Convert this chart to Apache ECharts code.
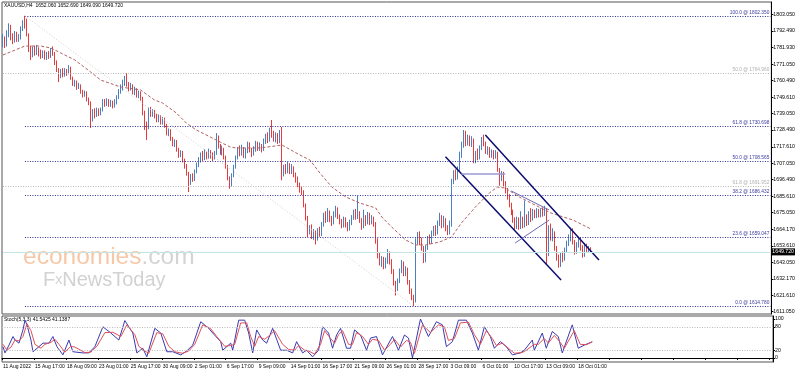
<!DOCTYPE html>
<html><head><meta charset="utf-8">
<script src="https://cdn.jsdelivr.net/npm/echarts@6/dist/echarts.min.js"></script>
<style>html,body{margin:0;padding:0;background:#fff}#c{width:798px;height:372px}</style>
</head><body><div id="c"></div><script>
const symbolTitle = 'XAUUSD,H4  1652.060 1652.690 1649.090 1649.720';
const stochTitle = 'Stoch(5,3,3) 41.5425 41.1387';
const tickLabels = ['11 Aug 2022','15 Aug 17:00','18 Aug 09:00','23 Aug 01:00','25 Aug 17:00','30 Aug 09:00','2 Sep 01:00','6 Sep 17:00','9 Sep 09:00','14 Sep 01:00','16 Sep 17:00','21 Sep 09:00','26 Sep 01:00','28 Sep 17:00','3 Oct 09:00','6 Oct 01:00','10 Oct 17:00','13 Oct 09:00','18 Oct 01:00'];
const priceTicks = [1803.05,1792.49,1781.93,1771.05,1760.49,1749.61,1739.05,1728.49,1717.61,1707.05,1696.49,1685.61,1675.05,1664.17,1653.61,1643.05,1632.17,1621.61,1611.05];
const stochTicks = [100,80,20,0];
const stochLevels = [80,20];
const totalSlots = 386;
const barsPerLabel = 16;
// [open, high, low, close]
const ohlc = [
[1784.7,1790.5,1782.0,1787.5],[1787.5,1789.0,1781.5,1783.0],[1783.0,1793.0,1782.5,1790.0],[1790.0,1797.5,1788.5,1795.5],[1795.5,1796.5,1786.5,1788.0],
[1788.0,1791.0,1784.0,1786.0],[1786.0,1792.5,1785.0,1789.5],[1789.5,1792.0,1785.5,1786.5],[1786.5,1790.5,1785.5,1788.5],[1788.5,1795.5,1787.0,1794.0],
[1794.0,1799.5,1792.5,1798.0],[1798.0,1802.35,1794.0,1796.5],[1796.5,1800.5,1789.0,1790.0],[1790.0,1791.0,1778.9,1781.5],[1781.5,1783.0,1773.8,1777.0],
[1777.0,1782.5,1775.5,1780.5],[1780.5,1783.0,1776.5,1778.5],[1778.5,1783.5,1777.0,1781.0],[1781.0,1782.0,1776.0,1779.0],[1779.0,1780.5,1774.5,1776.5],
[1776.5,1780.0,1775.0,1778.5],[1778.5,1780.0,1774.0,1775.5],[1775.5,1779.0,1773.8,1777.5],[1777.5,1779.5,1774.5,1776.0],[1776.0,1781.5,1775.0,1780.0],
[1780.0,1782.5,1776.5,1778.0],[1778.0,1779.0,1770.5,1772.0],[1772.0,1773.5,1766.0,1767.5],[1767.5,1768.5,1759.5,1763.0],[1763.0,1768.0,1762.0,1766.5],
[1766.5,1768.5,1762.5,1764.0],[1764.0,1768.5,1763.0,1767.0],[1767.0,1768.0,1763.5,1765.5],[1765.5,1770.5,1764.5,1769.0],[1769.0,1769.5,1761.0,1762.0],
[1762.0,1763.0,1757.0,1758.5],[1758.5,1761.0,1756.5,1759.5],[1759.5,1760.5,1754.5,1756.0],[1756.0,1759.0,1755.0,1757.5],[1757.5,1758.0,1752.0,1753.5],
[1753.5,1754.5,1749.5,1751.0],[1751.0,1754.0,1750.0,1752.5],[1752.5,1753.5,1747.0,1748.5],[1748.5,1749.5,1744.5,1746.0],[1746.0,1747.0,1729.8,1736.5],
[1736.5,1742.0,1734.0,1740.0],[1740.0,1742.5,1736.0,1738.0],[1738.0,1743.0,1737.0,1741.0],[1741.0,1742.5,1737.5,1739.0],[1739.0,1743.0,1738.0,1741.5],
[1741.5,1748.5,1740.5,1747.0],[1747.0,1748.5,1743.5,1745.0],[1745.0,1749.0,1744.0,1747.5],[1747.5,1748.5,1743.5,1744.5],[1744.5,1748.0,1743.5,1746.5],
[1746.5,1747.5,1742.5,1744.0],[1744.0,1748.5,1743.0,1746.0],[1746.0,1751.0,1745.0,1749.5],[1749.5,1755.0,1748.5,1753.5],[1753.5,1758.0,1752.0,1756.5],
[1756.5,1761.0,1754.0,1759.5],[1759.5,1763.5,1757.0,1761.0],[1761.0,1765.4,1756.5,1758.0],[1758.0,1759.5,1753.5,1755.0],[1755.0,1759.0,1754.0,1757.5],
[1757.5,1758.0,1751.5,1753.0],[1753.0,1756.5,1751.0,1754.5],[1754.5,1755.5,1749.5,1751.0],[1751.0,1754.0,1749.0,1752.5],[1752.5,1753.5,1747.5,1749.0],
[1749.0,1750.0,1738.0,1740.0],[1740.0,1741.0,1728.5,1733.0],[1733.0,1734.0,1722.0,1730.0],[1730.0,1743.0,1729.0,1741.5],[1741.5,1743.5,1737.0,1738.5],
[1738.5,1742.0,1737.0,1740.5],[1740.5,1741.5,1736.0,1737.5],[1737.5,1739.0,1733.5,1735.0],[1735.0,1738.5,1733.5,1737.0],[1737.0,1738.0,1732.0,1733.5],
[1733.5,1737.0,1732.0,1735.5],[1735.5,1736.5,1730.0,1731.5],[1731.5,1732.5,1725.0,1726.5],[1726.5,1729.5,1724.5,1728.0],[1728.0,1729.0,1721.5,1723.0],
[1723.0,1724.0,1718.0,1719.5],[1719.5,1722.5,1717.5,1721.0],[1721.0,1722.0,1714.5,1716.0],[1716.0,1717.0,1710.5,1712.5],[1712.5,1715.5,1711.0,1714.0],
[1714.0,1715.0,1707.5,1709.0],[1709.0,1710.0,1703.5,1705.5],[1705.5,1706.5,1699.0,1700.5],[1700.5,1701.5,1688.4,1694.0],[1694.0,1700.0,1693.0,1698.5],
[1698.5,1700.5,1695.0,1696.5],[1696.5,1703.0,1695.5,1701.5],[1701.5,1707.5,1700.5,1706.0],[1706.0,1711.0,1704.5,1709.0],[1709.0,1714.0,1707.5,1712.5],
[1712.5,1715.0,1708.5,1710.0],[1710.0,1716.0,1709.0,1713.0],[1713.0,1714.5,1709.5,1711.0],[1711.0,1716.5,1710.0,1714.5],[1714.5,1715.5,1710.0,1712.0],
[1712.0,1714.0,1708.5,1710.5],[1710.5,1715.0,1709.5,1713.5],[1713.5,1726.5,1712.5,1724.0],[1724.0,1725.0,1716.5,1718.0],[1718.0,1719.5,1712.5,1714.0],
[1714.0,1718.5,1712.0,1716.0],[1716.0,1717.0,1709.5,1711.0],[1711.0,1712.0,1703.5,1705.0],[1705.0,1706.0,1696.0,1697.5],[1697.5,1698.5,1690.5,1693.0],
[1693.0,1700.5,1692.0,1699.0],[1699.0,1706.0,1698.0,1704.5],[1704.5,1712.0,1703.5,1710.5],[1710.5,1717.5,1709.5,1716.0],[1716.0,1718.5,1711.5,1713.0],
[1713.0,1719.0,1712.0,1716.5],[1716.5,1717.5,1710.5,1712.0],[1712.0,1717.0,1710.0,1714.5],[1714.5,1721.0,1713.5,1719.0],[1719.0,1720.5,1714.0,1715.5],
[1715.5,1717.0,1711.0,1713.0],[1713.0,1718.0,1712.0,1716.0],[1716.0,1721.5,1714.5,1719.5],[1719.5,1721.0,1715.0,1716.5],[1716.5,1720.5,1715.0,1718.5],
[1718.5,1719.5,1714.0,1716.0],[1716.0,1723.0,1715.0,1721.0],[1721.0,1726.0,1719.5,1724.5],[1724.5,1727.0,1720.0,1722.0],[1722.0,1730.0,1721.0,1728.0],
[1728.0,1735.0,1723.5,1726.0],[1726.0,1728.0,1721.0,1722.5],[1722.5,1727.0,1720.5,1725.0],[1725.0,1726.5,1719.5,1721.0],[1721.0,1728.5,1720.0,1726.5],
[1726.5,1730.5,1696.0,1700.0],[1700.0,1706.0,1698.5,1704.5],[1704.5,1706.5,1700.0,1702.0],[1702.0,1708.0,1700.5,1705.5],[1705.5,1707.0,1700.0,1701.5],
[1701.5,1706.5,1700.0,1703.5],[1703.5,1705.0,1698.0,1699.5],[1699.5,1701.0,1694.5,1696.0],[1696.0,1698.5,1691.5,1693.0],[1693.0,1694.5,1688.0,1690.0],
[1690.0,1692.0,1686.5,1688.0],[1688.0,1689.5,1678.5,1680.0],[1680.0,1681.0,1670.0,1672.0],[1672.0,1673.0,1659.3,1662.5],[1662.5,1667.0,1661.0,1665.5],
[1665.5,1667.5,1658.0,1659.5],[1659.5,1664.5,1657.5,1662.5],[1662.5,1663.5,1654.5,1658.5],[1658.5,1665.0,1657.0,1663.5],[1663.5,1666.0,1659.5,1661.0],
[1661.0,1669.0,1660.0,1667.0],[1667.0,1675.0,1666.0,1673.0],[1673.0,1676.0,1668.5,1670.0],[1670.0,1678.0,1669.0,1675.0],[1675.0,1676.5,1669.0,1671.0],
[1671.0,1673.0,1666.5,1668.5],[1668.5,1676.0,1667.5,1673.5],[1673.5,1679.5,1672.0,1677.5],[1677.5,1678.5,1671.0,1672.5],[1672.5,1674.0,1667.5,1669.5],
[1669.5,1671.0,1665.0,1666.5],[1666.5,1672.5,1665.5,1670.5],[1670.5,1672.0,1665.5,1667.5],[1667.5,1669.0,1663.0,1664.5],[1664.5,1670.5,1663.5,1668.5],
[1668.5,1673.5,1667.0,1672.0],[1672.0,1677.0,1670.5,1675.0],[1675.0,1677.5,1670.5,1672.0],[1672.0,1686.0,1671.0,1674.5],[1674.5,1676.0,1668.5,1670.0],
[1670.0,1671.5,1664.0,1666.0],[1666.0,1677.0,1665.0,1671.5],[1671.5,1673.5,1666.5,1668.5],[1668.5,1675.5,1667.5,1673.0],[1673.0,1675.0,1667.0,1669.0],
[1669.0,1673.5,1667.5,1671.5],[1671.5,1672.5,1666.0,1668.0],[1668.0,1669.0,1655.0,1657.0],[1657.0,1658.5,1645.5,1648.0],[1648.0,1649.5,1641.0,1643.0],
[1643.0,1647.0,1640.0,1645.5],[1645.5,1646.5,1638.5,1641.0],[1641.0,1646.0,1639.0,1643.5],[1643.5,1651.5,1642.0,1648.5],[1648.5,1650.0,1641.5,1644.0],
[1644.0,1645.0,1635.5,1637.0],[1637.0,1638.5,1628.0,1630.0],[1630.0,1631.0,1621.5,1626.0],[1626.0,1632.5,1624.5,1631.0],[1631.0,1639.0,1629.5,1637.5],
[1637.5,1644.5,1636.0,1642.0],[1642.0,1643.5,1634.0,1635.5],[1635.5,1640.5,1634.0,1638.5],[1638.5,1639.5,1628.5,1630.0],[1630.0,1631.5,1622.5,1624.5],
[1624.5,1626.0,1618.5,1620.0],[1620.0,1622.0,1614.78,1618.0],[1618.0,1658.5,1617.0,1656.5],[1656.5,1662.5,1654.5,1660.5],[1660.5,1663.0,1654.0,1657.0],
[1657.0,1659.0,1650.5,1652.0],[1652.0,1653.5,1642.5,1644.0],[1644.0,1654.0,1643.0,1652.5],[1652.5,1660.0,1651.0,1658.5],[1658.5,1661.0,1654.5,1656.0],
[1656.0,1663.5,1655.0,1661.5],[1661.5,1666.5,1660.0,1664.5],[1664.5,1667.0,1660.0,1662.0],[1662.0,1670.0,1661.0,1668.0],[1668.0,1675.0,1666.5,1672.5],
[1672.5,1673.5,1665.0,1666.5],[1666.5,1673.0,1665.5,1670.5],[1670.5,1671.5,1663.0,1664.5],[1664.5,1667.0,1660.5,1662.0],[1662.0,1670.0,1661.0,1667.0],
[1667.0,1697.0,1666.0,1695.0],[1695.0,1702.5,1693.5,1700.5],[1700.5,1703.0,1696.0,1697.5],[1697.5,1705.0,1696.5,1703.0],[1703.0,1714.5,1702.0,1712.0],
[1712.0,1721.0,1710.5,1718.5],[1718.5,1728.5,1717.0,1724.0],[1724.0,1728.0,1718.0,1720.0],[1720.0,1725.5,1718.5,1723.5],[1723.5,1725.0,1718.0,1719.5],
[1719.5,1724.5,1717.5,1722.0],[1722.0,1723.0,1707.0,1708.5],[1708.5,1715.0,1707.0,1713.0],[1713.0,1716.5,1709.0,1710.5],[1710.5,1718.5,1709.5,1716.5],
[1716.5,1724.0,1715.5,1722.0],[1722.0,1725.5,1718.0,1720.0],[1720.0,1721.0,1713.0,1714.5],[1714.5,1718.0,1712.5,1716.0],[1716.0,1717.5,1710.5,1712.0],
[1712.0,1716.0,1710.5,1714.0],[1714.0,1715.5,1709.5,1711.5],[1711.5,1715.5,1710.0,1713.5],[1713.5,1714.5,1701.5,1703.0],[1703.0,1704.0,1692.5,1697.0],
[1697.0,1702.0,1695.5,1700.5],[1700.5,1701.5,1692.0,1694.0],[1694.0,1695.5,1687.5,1689.0],[1689.0,1691.0,1683.5,1685.5],[1685.5,1687.0,1678.5,1680.0],
[1680.0,1681.5,1673.5,1675.0],[1675.0,1677.0,1668.5,1670.0],[1670.0,1672.0,1664.0,1666.5],[1666.5,1672.5,1664.5,1669.5],[1669.5,1672.0,1664.0,1666.0],
[1666.0,1676.0,1664.5,1670.5],[1670.5,1672.5,1665.0,1667.0],[1667.0,1683.0,1665.5,1672.0],[1672.0,1674.0,1666.5,1668.5],[1668.5,1676.0,1667.0,1674.0],
[1674.0,1678.0,1669.0,1671.0],[1671.0,1677.5,1670.0,1675.5],[1675.5,1677.0,1671.5,1673.0],[1673.0,1678.0,1671.5,1675.5],[1675.5,1677.5,1672.0,1673.5],
[1673.5,1678.0,1672.0,1676.0],[1676.0,1678.5,1672.5,1674.5],[1674.5,1679.5,1673.0,1677.0],[1677.0,1678.0,1641.5,1648.5],[1648.5,1667.0,1647.0,1664.0],
[1664.0,1668.0,1657.0,1659.0],[1659.0,1665.0,1656.5,1662.0],[1662.0,1663.0,1650.5,1652.0],[1652.0,1653.5,1644.0,1646.0],[1646.0,1648.0,1639.5,1641.5],
[1641.5,1649.0,1640.0,1647.0],[1647.0,1650.0,1643.0,1645.0],[1645.0,1652.5,1644.0,1650.5],[1650.5,1657.0,1649.0,1655.0],[1655.0,1661.0,1653.5,1658.0],
[1658.0,1665.5,1656.5,1664.0],[1664.0,1665.0,1654.5,1656.0],[1656.0,1657.5,1648.0,1650.0],[1650.0,1656.0,1648.5,1654.0],[1654.0,1659.5,1652.5,1657.5],
[1657.5,1659.0,1650.5,1652.5],[1652.5,1654.0,1646.0,1648.0],[1648.0,1655.5,1646.5,1653.5],[1653.5,1655.0,1649.0,1651.0],[1651.0,1653.5,1649.5,1652.06],
[1652.06,1652.69,1649.09,1649.72]
];
// moving average, read at sampled bars: [barIndex, price]
const maPoints = [[0,1777.0],[11,1782.8],[19,1782.8],[24,1781.5],[29,1778.3],[36,1773.8],[44,1766.0],[49,1760.8],[59,1756.3],[69,1754.4],[76,1747.9],[80,1746.0],[87,1739.5],[92,1733.0],[97,1728.5],[104,1724.0],[109,1720.7],[114,1717.5],[117,1716.9],[129,1716.9],[140,1718.8],[149,1712.3],[154,1709.1],[159,1700.7],[165,1691.6],[172,1685.2],[179,1681.3],[187,1678.1],[190,1672.3],[195,1665.8],[202,1657.4],[207,1654.2],[212,1654.2],[219,1656.1],[225,1659.3],[230,1668.4],[237,1678.7],[244,1687.8],[248,1691.6],[252,1691.0],[259,1685.2],[266,1680.6],[275,1674.8],[286,1670.3],[295,1664.5]];
// stochastic %K and %D, read at sampled bars
const stochK = [[0,29],[1,13],[3,33],[5,55],[6,46],[8,38],[10,72],[11,97],[12,85],[14,46],[15,16],[18,29],[20,38],[23,38],[25,55],[27,29],[30,8],[33,46],[35,16],[40,13],[43,13],[46,29],[50,80],[54,64],[58,46],[61,96],[65,64],[67,13],[70,25],[72,3],[76,76],[79,64],[82,16],[85,16],[89,8],[92,18],[95,33],[99,93],[103,76],[105,64],[109,42],[110,20],[114,38],[115,20],[118,97],[121,97],[123,64],[125,13],[127,72],[130,46],[132,38],[135,76],[139,20],[142,20],[145,13],[147,42],[150,13],[152,20],[155,3],[158,20],[160,80],[163,64],[165,25],[167,59],[169,76],[172,25],[174,25],[176,72],[179,59],[182,20],[184,51],[187,55],[190,8],[194,46],[195,55],[198,20],[201,59],[203,51],[205,0],[209,100],[213,55],[217,93],[220,85],[222,29],[225,42],[228,97],[232,97],[235,64],[238,20],[241,80],[244,55],[246,25],[249,42],[252,29],[255,8],[259,13],[261,20],[265,46],[266,20],[270,64],[272,25],[275,68],[278,55],[280,13],[285,85],[288,25],[291,33],[295,41.54]];
const stochD = [[0,35],[2,20],[4,28],[6,46],[8,44],[10,55],[12,88],[14,70],[16,35],[19,25],[21,35],[24,40],[26,48],[28,35],[31,15],[34,30],[36,28],[41,14],[44,15],[47,30],[51,65],[55,66],[59,55],[62,85],[66,60],[68,30],[71,18],[73,12],[77,65],[80,62],[83,30],[86,16],[90,12],[93,18],[96,35],[100,85],[104,75],[107,55],[111,30],[114,32],[116,35],[119,90],[122,90],[124,55],[126,30],[128,55],[131,48],[134,60],[136,70],[140,35],[143,22],[146,20],[148,32],[151,20],[153,18],[156,10],[159,35],[161,70],[164,50],[166,38],[168,60],[170,70],[173,35],[175,35],[177,65],[180,55],[183,35],[185,48],[188,45],[191,20],[194,35],[196,48],[199,28],[202,45],[204,40],[206,12],[210,85],[214,65],[218,85],[221,80],[223,45],[226,50],[229,90],[233,92],[236,60],[239,35],[242,70],[245,50],[247,32],[250,38],[253,25],[256,12],[260,14],[262,20],[266,35],[268,35],[271,50],[273,38],[276,58],[279,40],[281,25],[286,70],[289,35],[292,34],[295,41.14]];
const fibMain = [['100.0',1802.350],['61.8',1730.698],['50.0',1708.565],['38.2',1686.432],['23.6',1659.047],['0.0',1614.780]];
const fibMainStart = 11;
const fibGrey = [['50.0',1764.960,0],['61.8',1691.952,0]];
const fibTrend = [[11,1802.35],[206,1614.78]];
const lastPrice = 1649.72;
const channelUpper = [[242,1725.3],[299,1644.4]];
const channelLower = [[222,1711.2],[280,1631.5]];
const flagHoriz = [[230,1700.5],[252,1700.5]];
const triUpper = [[255,1689.1],[274,1676.8]];
const triLower = [[257,1655.5],[274,1670.3]];

const cats = Array.from({length: totalSlots}, (_, i) => String(i));
const candleData = ohlc.map(([o,h,l,c]) => [o,c,l,h]);
const FONT = 'Liberation Sans';
const NAVY = '#2e2e8e';
const seg = (pts, color, width, type) => [
  {coord: pts[0], lineStyle: {color, width, type}, label: {show: false}},
  {coord: pts[1]}
];
const markLines = [];
fibMain.forEach(([lvl, p]) => markLines.push([
  {coord: [fibMainStart, p], lineStyle: {color: NAVY, width: 1, type: [1, 1.5]},
   label: {show: true, position: 'insideEndTop', formatter: lvl + ' @ ' + p.toFixed(3), color: '#3a3aa0', fontSize: 4.8, fontFamily: FONT, distance: [1, 1]}},
  {coord: [totalSlots - 1, p]}
]));
fibGrey.forEach(([lvl, p, s]) => markLines.push([
  {coord: [s, p], lineStyle: {color: '#b8b8b8', width: 1, type: [1, 1.5]},
   label: {show: true, position: 'insideEndTop', formatter: lvl + ' @ ' + p.toFixed(3), color: '#b0b0b0', fontSize: 4.8, fontFamily: FONT, distance: [1, 1]}},
  {coord: [totalSlots - 1, p]}
]));
markLines.push(seg(fibTrend, '#d0d0d0', 1, [1, 2]));
markLines.push(seg(channelUpper, '#0c0c70', 1.5, 'solid'));
markLines.push(seg(channelLower, '#0c0c70', 1.5, 'solid'));
markLines.push(seg(flagHoriz, '#9a9ad0', 1.5, 'solid'));
markLines.push(seg(triUpper, '#6a6ab8', 1, 'solid'));
markLines.push(seg(triLower, '#6a6ab8', 1, 'solid'));
markLines.push([
  {coord: [0, lastPrice], lineStyle: {color: '#c4e4e4', width: 1, type: 'solid'},
   label: {show: true, position: 'end', formatter: lastPrice.toFixed(3), color: '#fff', backgroundColor: '#000', fontSize: 5.2, fontFamily: FONT, padding: [1, 1], distance: 1}},
  {coord: [totalSlots - 1, lastPrice]}
]);

const chart = echarts.init(document.getElementById('c'), null, {renderer: 'canvas'});
chart.setOption({
  animation: false,
  backgroundColor: '#fff',
  grid: [
    {left: 2, right: 25, top: 2, height: 312, show: true, borderColor: '#555', borderWidth: 1, containLabel: false},
    {left: 2, right: 25, top: 316, height: 46, show: true, borderColor: '#555', borderWidth: 1, containLabel: false}
  ],
  xAxis: [
    {type: 'category', gridIndex: 0, data: cats, boundaryGap: true, show: false},
    {type: 'category', gridIndex: 1, data: cats, boundaryGap: true,
     axisLine: {show: true, lineStyle: {color: '#000', width: 1}},
     axisTick: {show: true, interval: barsPerLabel - 1, length: 2, lineStyle: {color: '#000'}},
     axisLabel: {show: true, interval: barsPerLabel - 1, align: 'left', margin: 2, fontSize: 5, fontFamily: FONT, color: '#000',
       formatter: (v, i) => (i % barsPerLabel === 0 ? (tickLabels[i / barsPerLabel] || '') : '')},
     splitLine: {show: false}}
  ],
  yAxis: [
    {type: 'value', gridIndex: 0, position: 'right', min: 1609.56, max: 1811.26,
     axisLine: {show: true, lineStyle: {color: '#000'}},
     axisTick: {show: true, customValues: priceTicks, length: 2, lineStyle: {color: '#000'}},
     axisLabel: {show: true, customValues: priceTicks, formatter: v => v.toFixed(3), fontSize: 5.2, fontFamily: FONT, color: '#000', margin: 2},
     splitLine: {show: false}},
    {type: 'value', gridIndex: 1, position: 'right', min: -10.3, max: 107.7,
     axisLine: {show: true, lineStyle: {color: '#000'}},
     axisTick: {show: true, customValues: stochTicks, length: 2, lineStyle: {color: '#000'}},
     axisLabel: {show: true, customValues: stochTicks, fontSize: 5.2, fontFamily: FONT, color: '#000', margin: 2},
     splitLine: {show: false}}
  ],
  series: [
    {type: 'candlestick', xAxisIndex: 0, yAxisIndex: 0, data: candleData, barWidth: 1,
     itemStyle: {color: '#4a7fc0', color0: '#e63a3c', borderColor: '#4a7fc0', borderColor0: '#e63a3c', borderWidth: 1},
     markLine: {symbol: ['none', 'none'], silent: true, animation: false, data: markLines}},
    {type: 'line', xAxisIndex: 0, yAxisIndex: 0, data: maPoints, showSymbol: false, smooth: false,
     lineStyle: {color: '#b06060', width: 1, type: [3, 2]}},
    {type: 'line', xAxisIndex: 1, yAxisIndex: 1, data: stochK, showSymbol: false,
     lineStyle: {color: '#3a3ab0', width: 1},
     markLine: {symbol: ['none', 'none'], silent: true, label: {show: false},
       lineStyle: {color: '#bbb', width: 1, type: [1, 1.5]}, data: stochLevels.map(v => ({yAxis: v}))}},
    {type: 'line', xAxisIndex: 1, yAxisIndex: 1, data: stochD, showSymbol: false,
     lineStyle: {color: '#e0505a', width: 1}}
  ],
  graphic: [
    {type: 'text', left: 4, top: 3, style: {text: symbolTitle, fontSize: 5, fontFamily: FONT, fill: '#000'}},
    {type: 'text', left: 4, top: 317, style: {text: stochTitle, fontSize: 5, fontFamily: FONT, fill: '#000'}},
    {type: 'text', left: 23, top: 245, silent: true, style: {text: '{a|economies}{b|.com}', rich: {
       a: {fontSize: 24.5, fontFamily: 'Liberation Sans', fill: '#f7c8a8'},
       b: {fontSize: 24.5, fontFamily: 'Liberation Sans', fill: '#d4d4d4'}}}},
    {type: 'text', left: 43, top: 270, silent: true, style: {text: '{a|F}{b|x}{a|NewsToday}', rich: {
       a: {fontSize: 20, fontFamily: 'Liberation Sans', fill: '#d2d2d2'},
       b: {fontSize: 14, fontFamily: 'Liberation Sans', fill: '#d2d2d2'}}}}
  ]
});
</script></body></html>
